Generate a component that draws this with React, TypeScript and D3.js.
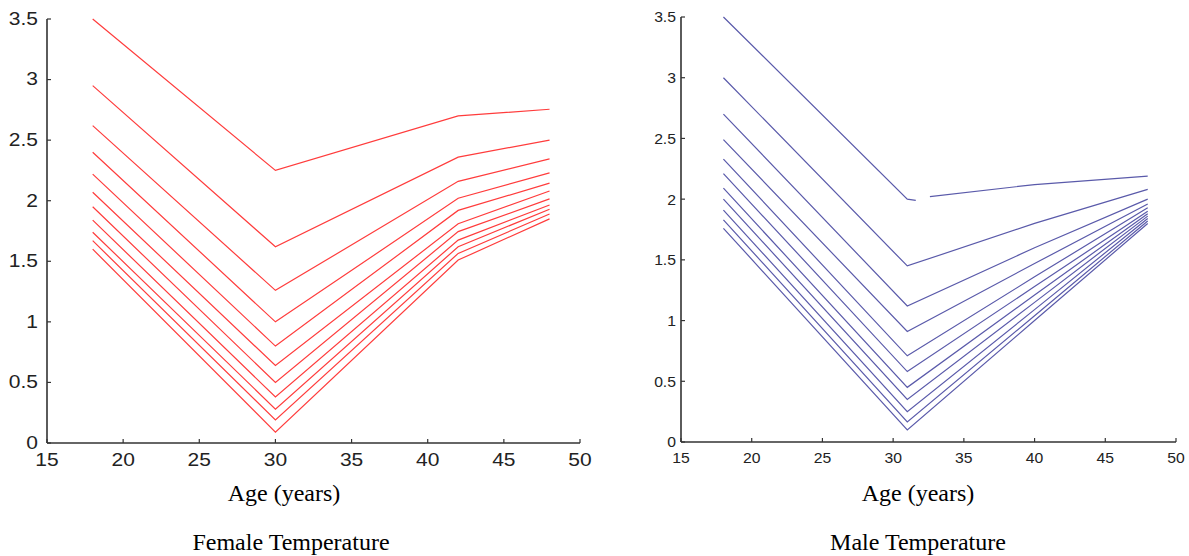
import React from "react";
import * as d3 from "d3";

const xTicks = [15, 20, 25, 30, 35, 40, 45, 50];
const yTicks = [0, 0.5, 1, 1.5, 2, 2.5, 3, 3.5];
const yTickLabels = ["0", "0.5", "1", "1.5", "2", "2.5", "3", "3.5"];

const femaleAges = [18, 30, 42, 48];
const femaleSeries: number[][] = [
  [3.5, 2.25, 2.7, 2.755],
  [2.95, 1.62, 2.36, 2.5],
  [2.62, 1.26, 2.16, 2.345],
  [2.4, 1.0, 2.02, 2.23],
  [2.22, 0.8, 1.92, 2.145],
  [2.07, 0.64, 1.81, 2.08],
  [1.95, 0.5, 1.745, 2.015],
  [1.84, 0.38, 1.675, 1.965],
  [1.74, 0.28, 1.62, 1.93],
  [1.67, 0.19, 1.565, 1.89],
  [1.6, 0.09, 1.51, 1.85],
];

const maleAges = [18, 31, 40, 48];
const maleSeries: number[][] = [
  [3.5, 2.0, 2.12, 2.19],
  [3.0, 1.45, 1.8, 2.08],
  [2.7, 1.12, 1.6, 2.0],
  [2.49, 0.91, 1.47, 1.96],
  [2.33, 0.71, 1.36, 1.93],
  [2.21, 0.58, 1.28, 1.9],
  [2.09, 0.45, 1.21, 1.88],
  [2.0, 0.35, 1.15, 1.86],
  [1.91, 0.25, 1.09, 1.84],
  [1.83, 0.165, 1.04, 1.82],
  [1.76, 0.1, 1.0, 1.8],
];
// small break in the top male line just after the minimum
const maleTopGap = { ages: [18, 31, 31.6, NaN, 32.6, 40, 48], values: [3.5, 2.0, 1.99, NaN, 2.02, 2.12, 2.19] };

type PanelProps = {
  x0: number; x1: number; y0: number; y1: number;
  ages: number[]; series: number[][]; color: string;
  fontSize: number; scaleX: number; labelGap: number; xLabelY: number;
  title: string; titleX: number; axisTitleX: number; gapLine?: { ages: number[]; values: number[] };
};

function Panel(p: PanelProps) {
  const x = d3.scaleLinear().domain([15, 50]).range([p.x0, p.x1]);
  const y = d3.scaleLinear().domain([0, 3.5]).range([p.y0, p.y1]);
  const line = d3
    .line<[number, number]>()
    .defined((d) => !isNaN(d[0]) && !isNaN(d[1]))
    .x((d) => x(d[0]))
    .y((d) => y(d[1]));
  const axisColor = "#333";
  const tickLen = 4;
  const font = "'Liberation Sans', Arial, sans-serif";
  return (
    <g>
      {p.series.map((vals, i) => {
        let pts: [number, number][] = p.ages.map((a, j) => [a, vals[j]]);
        if (i === 0 && p.gapLine) pts = p.gapLine.ages.map((a, j) => [a, p.gapLine!.values[j]]);
        return <path key={i} d={line(pts) || ""} fill="none" stroke={p.color} strokeWidth={1.2} />;
      })}
      <line x1={x(15)} x2={x(50)} y1={y(0)} y2={y(0)} stroke={axisColor} strokeWidth={1.6} />
      <line x1={x(15)} x2={x(15)} y1={y(0)} y2={y(3.5)} stroke={axisColor} strokeWidth={1.6} />
      {xTicks.map((t) => (
        <g key={"x" + t}>
          <line x1={x(t)} x2={x(t)} y1={y(0)} y2={y(0) - tickLen} stroke={axisColor} strokeWidth={1.2} />
          <text
            transform={`translate(${x(t)},${p.xLabelY}) scale(${p.scaleX},1)`}
            textAnchor="middle"
            fontFamily={font}
            fontSize={p.fontSize}
            fill="#222"
          >
            {t}
          </text>
        </g>
      ))}
      {yTicks.map((t, i) => (
        <g key={"y" + t}>
          <line x1={x(15)} x2={x(15) + tickLen} y1={y(t)} y2={y(t)} stroke={axisColor} strokeWidth={1.2} />
          <text
            transform={`translate(${x(15) - p.labelGap},${y(t)}) scale(${p.scaleX},1)`}
            textAnchor="end"
            dominantBaseline="central"
            fontFamily={font}
            fontSize={p.fontSize}
            fill="#222"
          >
            {yTickLabels[i]}
          </text>
        </g>
      ))}
      <text
        x={p.axisTitleX}
        y={501}
        textAnchor="middle"
        fontFamily="'Liberation Serif', 'Times New Roman', serif"
        fontSize={24}
        fill="#000"
      >
        Age (years)
      </text>
      <text
        x={p.titleX}
        y={550}
        textAnchor="middle"
        fontFamily="'Liberation Serif', 'Times New Roman', serif"
        fontSize={24}
        fill="#000"
      >
        {p.title}
      </text>
    </g>
  );
}

export default function App() {
  return (
    <svg
      width={1189}
      height={556}
      style={{ position: "absolute", left: 0, top: 0, background: "#fff" }}
    >
      <rect width={1189} height={556} fill="#fff" />
      <Panel
        x0={47} x1={580} y0={443} y1={19}
        ages={femaleAges} series={femaleSeries} color="#ff3c3c"
        fontSize={17.5} scaleX={1.2} labelGap={9} xLabelY={466}
        title="Female Temperature" titleX={291} axisTitleX={284}
      />
      <Panel
        x0={681} x1={1176} y0={442} y1={17}
        ages={maleAges} series={maleSeries} color="#5a5aaa"
        fontSize={15} scaleX={1.05} labelGap={5} xLabelY={463}
        title="Male Temperature" titleX={918} axisTitleX={918} gapLine={maleTopGap}
      />
    </svg>
  );
}
